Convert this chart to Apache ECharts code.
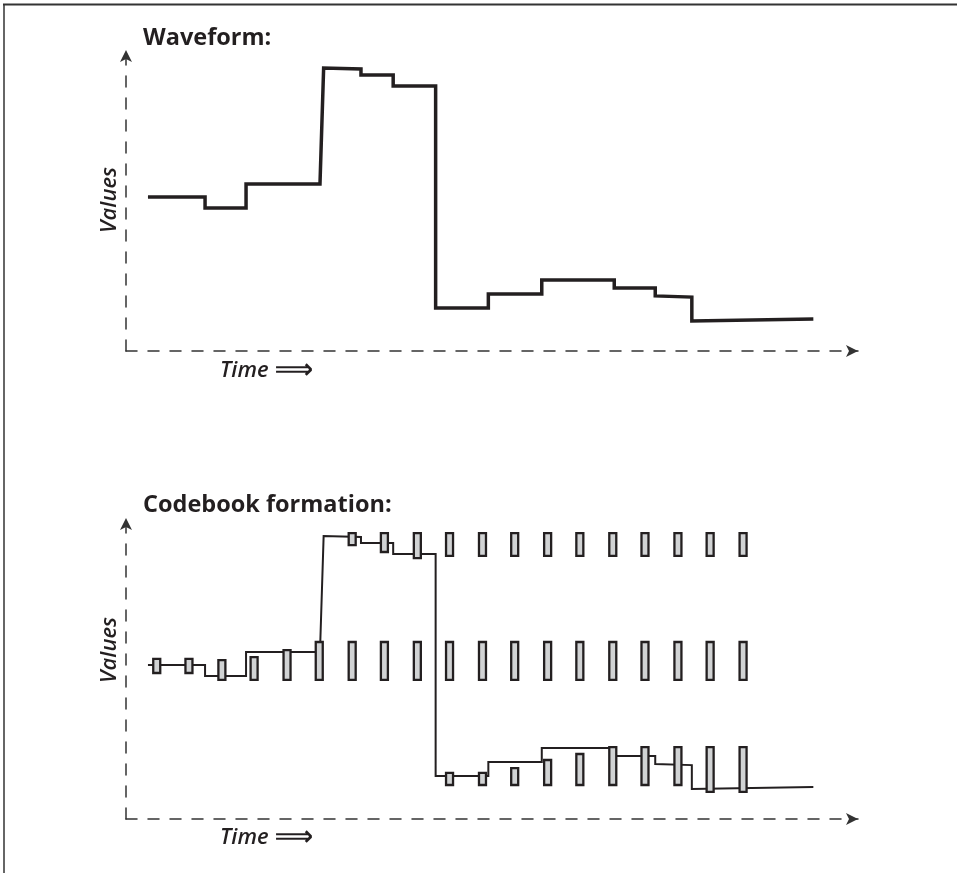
<!DOCTYPE html>
<html>
<head>
<meta charset="utf-8">
<script src="https://cdn.jsdelivr.net/npm/echarts@6/dist/echarts.min.js"></script>
<style>
  html, body { margin: 0; padding: 0; background: #fff; }
  #chart { width: 957px; height: 873px; }
</style>
</head>
<body>
<div id="chart"></div>
<script>
// waveform vertices (time, value), shared by both panels
const waveTime  = [3.0, 10.8, 10.8, 16.4, 16.4, 26.5, 27.0, 32.1, 32.1, 36.5, 36.5, 42.3, 42.3, 49.5, 49.5, 56.8, 56.8, 66.7, 66.7, 72.3, 72.3, 77.3, 77.3, 93.9];
const waveValue = [51.2, 51.2, 47.5, 47.5, 55.5, 55.5, 94.0, 93.7, 91.7, 91.7, 88.0, 88.0, 14.3, 14.3, 18.9, 18.9, 23.6, 23.6, 20.9, 20.9, 18.3, 17.9, 10.0, 10.6];

// codebook sample times and box ranges (null = no codeword yet)
const codebookTimes = [4.2, 8.6, 13.1, 17.5, 22.0, 26.4, 30.9, 35.3, 39.8, 44.2, 48.7, 53.1, 57.6, 62.0, 66.5, 70.9, 75.4, 79.8, 84.3];
const upperLow   = [null, null, null, null, null, null, 91.0, 88.7, 86.7, 87.4, 87.4, 87.4, 87.4, 87.4, 87.4, 87.4, 87.4, 87.4, 87.4];
const upperHigh  = [null, null, null, null, null, null, 95.0, 95.0, 95.0, 95.0, 95.0, 95.0, 95.0, 95.0, 95.0, 95.0, 95.0, 95.0, 95.0];
const middleLow  = [48.5, 48.5, 46.2, 46.2, 46.2, 46.2, 46.2, 46.2, 46.2, 46.2, 46.2, 46.2, 46.2, 46.2, 46.2, 46.2, 46.2, 46.2, 46.2];
const middleHigh = [53.2, 53.2, 52.8, 53.8, 56.1, 58.8, 58.8, 58.8, 58.8, 58.8, 58.8, 58.8, 58.8, 58.8, 58.8, 58.8, 58.8, 58.8, 58.8];
const lowerLow   = [null, null, null, null, null, null, null, null, null, 11.3, 11.3, 11.3, 11.3, 11.3, 11.3, 11.3, 11.3, 9.0, 9.0];
const lowerHigh  = [null, null, null, null, null, null, null, null, null, 15.3, 15.3, 16.9, 19.6, 21.6, 23.9, 23.9, 23.9, 23.9, 23.9];

const titles = ['Waveform:', 'Codebook formation:'];
const yName = 'Values';
const xName = 'Time';

const ink = '#231f20';
const font = "'Open Sans', 'DejaVu Sans', sans-serif";

const wave = waveTime.map((t, i) => [t, waveValue[i]]);

const boxes = [];
[[upperLow, upperHigh], [middleLow, middleHigh], [lowerLow, lowerHigh]].forEach(([lo, hi]) => {
  codebookTimes.forEach((t, k) => {
    if (lo[k] != null) boxes.push([t, lo[k], hi[k]]);
  });
});

const axisLine = {
  onZero: false,
  symbol: ['none', 'arrow'],
  symbolSize: [9, 12],
  lineStyle: { color: '#333', width: 1.5, type: [11, 11] }
};
const baseAxis = {
  type: 'value', min: 0, max: 100,
  axisLine: axisLine,
  axisTick: { show: false },
  axisLabel: { show: false },
  splitLine: { show: false }
};

const titleStyle = { fontFamily: font, fontSize: 23.5, fontWeight: 'bold', color: ink };

function yLabel(y) {
  return {
    type: 'text', x: 110, y: y, rotation: Math.PI / 2,
    style: { text: yName, font: 'italic 600 22px ' + font, fill: ink, align: 'center', verticalAlign: 'middle' }
  };
}
function xLabel(y) {
  return {
    type: 'text', x: 220, y: y,
    style: {
      text: '{t|' + xName + '}{a|\u27F9}',
      fill: ink, align: 'left', verticalAlign: 'middle',
      rich: {
        t: { font: 'italic 600 22px ' + font, fill: ink },
        a: { font: 'bold 27px DejaVu Sans', fill: ink, padding: [0, 0, 0, 6] }
      }
    }
  };
}

const chart = echarts.init(document.getElementById('chart'), null, { renderer: 'canvas' });

chart.setOption({
  animation: false,
  backgroundColor: '#fff',
  title: [
    { text: titles[0], left: 143, top: 26, padding: 0, textStyle: titleStyle },
    { text: titles[1], left: 143, top: 493, padding: 0, textStyle: titleStyle }
  ],
  grid: [
    { left: 126, right: 99, top: 50, bottom: 522 },
    { left: 126, right: 99, top: 518, bottom: 54 }
  ],
  xAxis: [
    Object.assign({ gridIndex: 0 }, baseAxis),
    Object.assign({ gridIndex: 1 }, baseAxis)
  ],
  yAxis: [
    Object.assign({ gridIndex: 0 }, baseAxis),
    Object.assign({ gridIndex: 1 }, baseAxis)
  ],
  graphic: [
    // page frame
    { type: 'line', shape: { x1: 3, y1: 4.5, x2: 957, y2: 4.5 }, style: { stroke: '#333', lineWidth: 2 } },
    { type: 'line', shape: { x1: 4, y1: 4, x2: 4, y2: 873 }, style: { stroke: '#333', lineWidth: 1.5 } },
    yLabel(200), yLabel(650),
    xLabel(371), xLabel(838)
  ],
  series: [
    {
      type: 'line', xAxisIndex: 0, yAxisIndex: 0,
      data: wave, showSymbol: false, silent: true, z: 2,
      lineStyle: { color: ink, width: 3.5, join: 'miter' }
    },
    {
      type: 'line', xAxisIndex: 1, yAxisIndex: 1,
      data: wave, showSymbol: false, silent: true, z: 2,
      lineStyle: { color: ink, width: 2, join: 'miter' }
    },
    {
      type: 'custom', xAxisIndex: 1, yAxisIndex: 1, silent: true, z: 3,
      data: boxes,
      renderItem: function (params, api) {
        const top = api.coord([api.value(0), api.value(2)]);
        const bottom = api.coord([api.value(0), api.value(1)]);
        return {
          type: 'rect',
          shape: { x: top[0] - 3.5, y: top[1], width: 7, height: bottom[1] - top[1] },
          style: { fill: '#d1d3d4', stroke: ink, lineWidth: 2.3 }
        };
      }
    }
  ]
});
</script>
</body>
</html>
